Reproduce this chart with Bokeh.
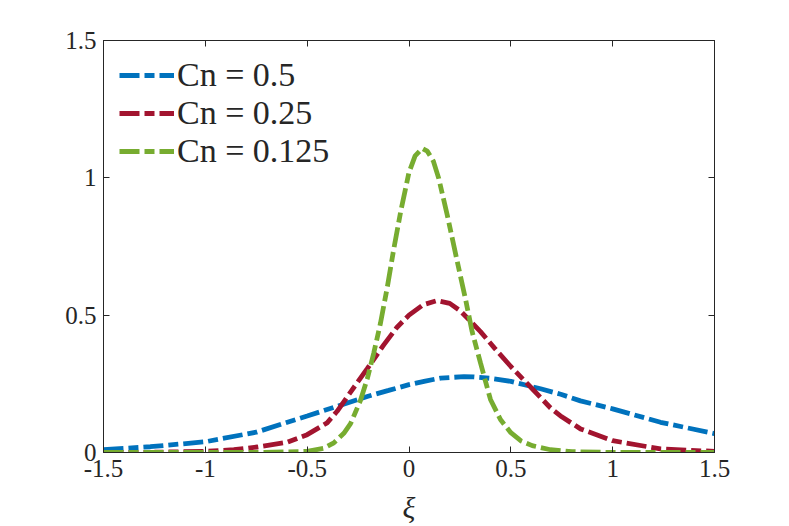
from bokeh.plotting import figure
from bokeh.models import LinearAxis, FixedTicker, Range1d, Legend, LegendItem
from bokeh.embed import file_html
from bokeh.resources import INLINE

# ---- data ----
labels = ["Cn = 0.5", "Cn = 0.25", "Cn = 0.125"]
colors = ["#0072BD", "#A2142F", "#77AC30"]

blue_x = [-1.5, -1.27, -1.0, -0.75, -0.5, -0.353, -0.205, -0.1, 0.0, 0.08, 0.155,
          0.27, 0.318, 0.4, 0.5, 0.646, 0.745, 0.842, 1.0, 1.235, 1.5]
blue_y = [0.010, 0.021, 0.039, 0.074, 0.133, 0.168, 0.204, 0.226, 0.247, 0.260, 0.271,
          0.276, 0.275, 0.270, 0.259, 0.232, 0.212, 0.188, 0.159, 0.110, 0.069]

red_x = [-1.5, -1.25, -1.0, -0.86, -0.745, -0.6, -0.5, -0.402, -0.353, -0.287, -0.205,
         -0.124, -0.06, 0.0, 0.07, 0.138, 0.2, 0.253, 0.351, 0.42, 0.5, 0.605, 0.695,
         0.75, 0.842, 1.0, 1.235, 1.5]
red_y = [0.0, 0.001, 0.004, 0.010, 0.020, 0.037, 0.065, 0.108, 0.150, 0.220, 0.305,
         0.392, 0.455, 0.500, 0.538, 0.553, 0.543, 0.515, 0.440, 0.380, 0.313, 0.232, 0.162,
         0.130, 0.086, 0.043, 0.013, 0.004]

green_x = [-1.5, -0.75, -0.5, -0.42, -0.369, -0.32, -0.287, -0.238, -0.205, -0.173, -0.14,
           -0.107, -0.075, -0.04, 0.0, 0.03, 0.065, 0.09, 0.12, 0.146, 0.188, 0.237, 0.277,
           0.31, 0.351, 0.40, 0.449, 0.5, 0.55, 0.605, 0.695, 0.8, 1.0, 1.5]
green_y = [0.0, 0.0, 0.004, 0.015, 0.035, 0.07, 0.105, 0.19, 0.268, 0.362, 0.471,
           0.60, 0.74, 0.88, 1.02, 1.08, 1.107, 1.097, 1.06, 0.998, 0.864, 0.695, 0.56,
           0.44, 0.326, 0.193, 0.12, 0.072, 0.042, 0.025, 0.010, 0.003, 0.0, 0.0]

x_ticks = [-1.5, -1.0, -0.5, 0.0, 0.5, 1.0, 1.5]
x_tick_labels = ["-1.5", "-1", "-0.5", "0", "0.5", "1", "1.5"]
y_ticks = [0.0, 0.5, 1.0, 1.5]
y_tick_labels = ["0", "0.5", "1", "1.5"]

FONT = "Liberation Serif"
AX = "#262626"

p = figure(width=789, height=526, output_backend="svg", toolbar_location=None,
           x_range=Range1d(-1.5, 1.5), y_range=Range1d(0, 1.5),
           min_border_left=103, min_border_right=75, min_border_top=40, min_border_bottom=73,
           x_axis_label="ξ")
p.grid.visible = False
p.outline_line_color = AX
p.outline_line_width = 1
p.background_fill_color = "white"
p.border_fill_color = "white"

def style_axis(ax, ticks, labs, show_labels=True):
    ax.ticker = FixedTicker(ticks=ticks)
    ax.axis_line_color = AX
    ax.major_tick_line_color = AX
    ax.major_tick_in = 6
    ax.major_tick_out = 0
    ax.minor_tick_line_color = None
    ax.major_label_text_font = FONT
    if show_labels:
        ax.major_label_overrides = {t: l for t, l in zip(ticks, labs)}
        ax.major_label_text_color = AX
        ax.major_label_text_font_size = "25px"
        ax.major_label_standoff = 7
    else:
        ax.major_label_text_color = None
        ax.major_label_text_font_size = "1px"
        ax.major_label_standoff = 0

style_axis(p.xaxis[0], x_ticks, x_tick_labels)
style_axis(p.yaxis[0], y_ticks, y_tick_labels)
p.xaxis[0].axis_label_text_font = FONT
p.xaxis[0].axis_label_text_font_style = "italic"
p.xaxis[0].axis_label_text_font_size = "30px"
p.xaxis[0].axis_label_text_color = AX
p.xaxis[0].axis_label_standoff = 11

top = LinearAxis()
right = LinearAxis()
style_axis(top, x_ticks, x_tick_labels, show_labels=False)
style_axis(right, y_ticks, y_tick_labels, show_labels=False)
p.add_layout(top, "above")
p.add_layout(right, "right")

dash = "20 5 10 5"
xs = [blue_x, red_x, green_x]
ys = [blue_y, red_y, green_y]
items = []
for x, y, c, lab in zip(xs, ys, colors, labels):
    r = p.line(x, y, line_color=c, line_width=4.8, line_dash=dash)
    items.append(LegendItem(label=lab, renderers=[r]))

legend = Legend(items=items, location="top_left")
legend.label_text_font = FONT
legend.label_text_font_size = "34px"
legend.label_text_color = AX
legend.glyph_width = 55
legend.glyph_height = 30
legend.label_height = 30
legend.label_standoff = 3
legend.spacing = 0
legend.margin = 16
legend.padding = 10
legend.border_line_color = None
legend.background_fill_alpha = 0
p.add_layout(legend, "center")

open("out.html", "w").write(file_html(p, INLINE))
